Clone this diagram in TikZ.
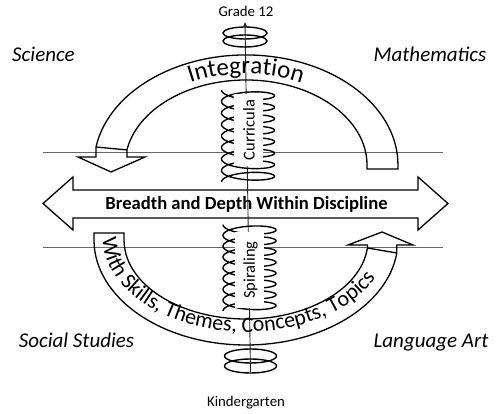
\documentclass[tikz,border=0pt]{standalone}
\usepackage{fontspec}
\setmainfont{Carlito}
\usetikzlibrary{arrows.meta,decorations.text}
\begin{document}
\begin{tikzpicture}[x=1pt,y=1pt,
  band/.style={draw=black, line width=1.3pt, line join=miter},
  thinline/.style={draw=black!60, line width=0.8pt},
  axisline/.style={draw=black!85, line width=0.9pt},
  coil/.style={draw=black, line width=1.4pt},
  subject/.style={font=\fontsize{21}{21}\selectfont\itshape, inner sep=0pt, anchor=base},
  level/.style={font=\fontsize{14.8}{14.8}\selectfont, inner sep=0pt, anchor=base},
  coillabel/.style={fill=white, rotate=90, inner sep=0pt, font=\fontsize{16.5}{16.5}\selectfont}
]
\useasboundingbox (0,0) rectangle (496,414);

% horizontal thin lines
\coordinate (l1a) at (43,262); \coordinate (l1b) at (443,262);
\coordinate (l2a) at (43,167); \coordinate (l2b) at (443,167);
\draw[thinline] (l1a) -- (l1b);
\draw[thinline] (l2a) -- (l2b);

% double arrow
\draw[band, fill=white] (43,210.5) -- (73,237) -- (73,224) -- (418,224) -- (418,237) -- (448,210.5)
  -- (418,184) -- (418,196) -- (73,196) -- (73,184) -- cycle;
\node[font=\fontsize{18.6}{18.6}\selectfont\bfseries, inner sep=0pt] (bd) at (246.5,210) {Breadth and Depth Within Discipline};

% axis
\coordinate (kb) at (250.5,42);
\coordinate (gt) at (245,392);
\draw[axisline, -{Stealth[length=5pt,width=4pt]}] (kb) -- (gt);

% coils
\draw[coil] plot[domain=0:2880, samples=480, smooth] ({248-26.5*cos(\x)}, {232+\x/360*11.5+6.5*sin(\x)});
\draw[coil] plot[domain=0:2880, samples=480, smooth] ({249.5-26.5*cos(\x)}, {103+\x/360*10.8+6.5*sin(\x)});

% rings
\draw[coil] (245,381) ellipse[x radius=22, y radius=6];
\draw[coil] (245,373) ellipse[x radius=22, y radius=6];
\draw[coil] (250.5,58) ellipse[x radius=26, y radius=7];
\draw[coil] (250.5,48) ellipse[x radius=26, y radius=7];

% coil labels on white panels
\fill[white] (233.5,248) rectangle (262.5,320);
\fill[white] (235,106) rectangle (264,182);
\node[coillabel] (cur) at (249,284) {Curricula};
\node[coillabel] (spi) at (250.5,144) {Spiraling};

% upper band (Integration)
\draw[band] (96,257) -- (96,267) arc[start angle=170.6, end angle=0, x radius=152, y radius=110]
  -- (398,245) -- (367,245) -- (367,249) arc[start angle=0, end angle=169.8, x radius=121, y radius=85]
  -- (126.9,257) -- (145,257) -- (111,242) -- (78,257) -- cycle;
\draw[band] (96,267) -- (126.9,264.05);
\path[decorate, decoration={text along path, text align=center,
  text={|\fontsize{25}{25}\selectfont|Integration}}]
  (118,249) arc[start angle=180, end angle=0, x radius=128, y radius=91];

% lower band
\draw[band] (94,181) -- (94,174) arc[start angle=180, end angle=352.9, x radius=152, y radius=105]
  -- (396.8,169) -- (413,169) -- (382,182) -- (348,169) -- (367.4,169) -- (367.4,166)
  arc[start angle=354.2, end angle=180, x radius=122, y radius=79] -- (124,181) -- cycle;
\draw[band] (367.4,166) -- (396.8,161);
\path[decorate, decoration={text along path, text align=left,
  text={|\fontsize{22}{22}\selectfont|With Skills, Themes, Concepts, Topics}}]
  (103,176) arc[start angle=180, end angle=360, x radius=143, y radius=94];

% labels
\node[subject] (sci) at (43.5,352) {Science};
\node[subject] (mat) at (430,352) {Mathematics};
\node[subject] (soc) at (76.5,66) {Social Studies};
\node[subject] (lan) at (431,66) {Language Art};
\node[level] (g12) at (246,397) {Grade 12};
\node[level] (kg) at (246,7) {Kindergarten};
\end{tikzpicture}
\end{document}
